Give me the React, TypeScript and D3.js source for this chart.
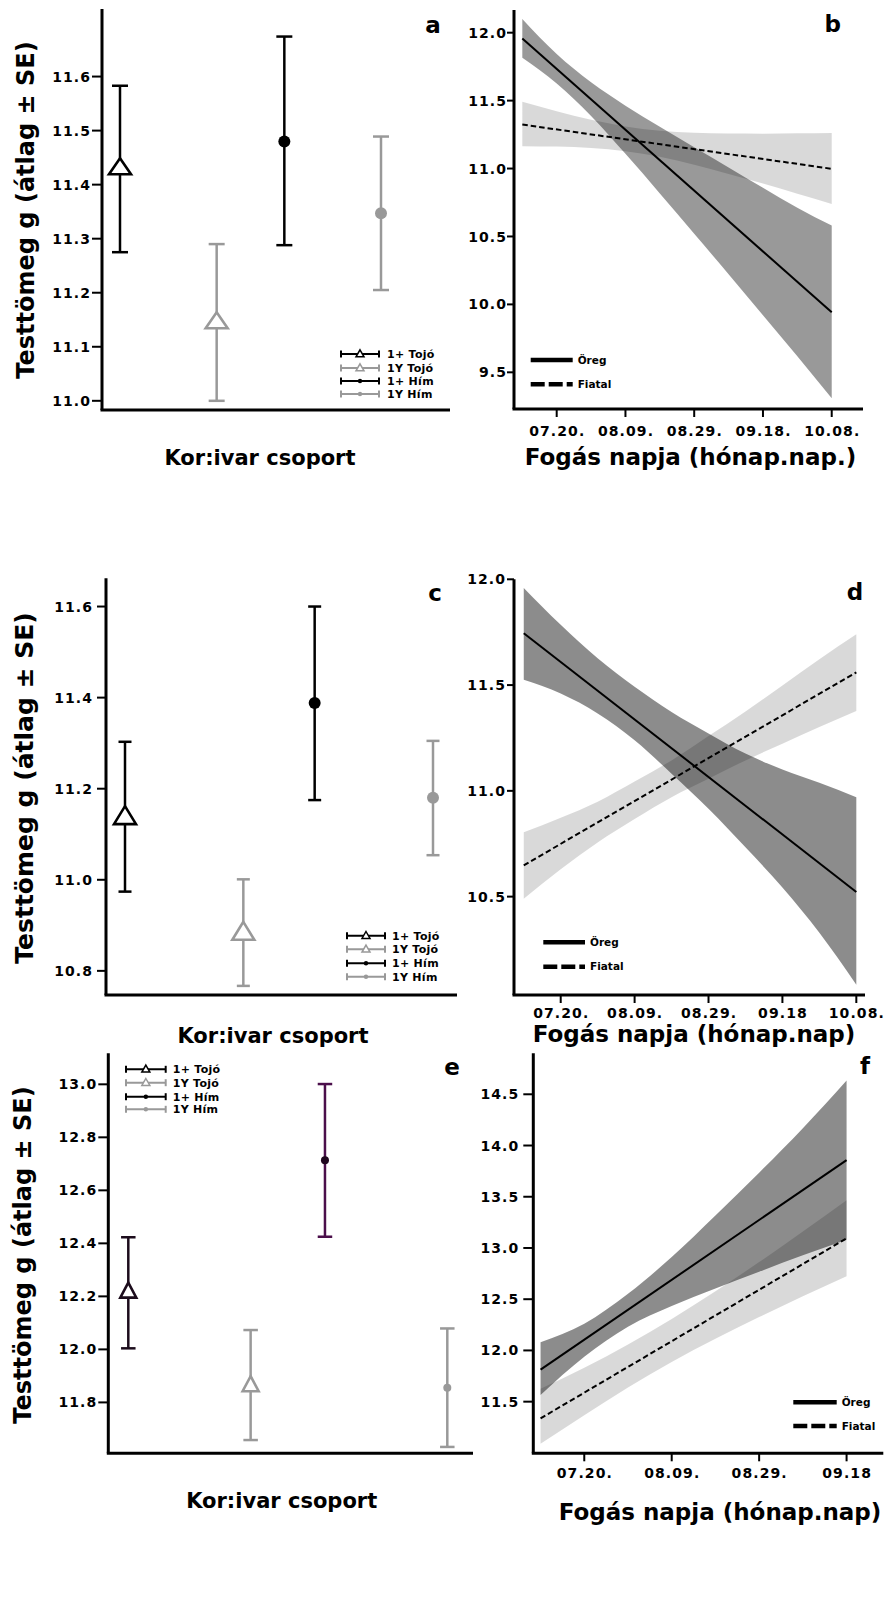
import React from 'react';
import * as d3 from 'd3';

// ---------- data ----------
const categories = ["1+ Tojó", "1Y Tojó", "1+ Hím", "1Y Hím"];
const categoryShape = ["triangle", "triangle", "circle", "circle"];
const dodgeSign = [-1, 1, -1, 1];

const aMean = [11.431, 11.146, 11.48, 11.347];
const aUpper = [11.583, 11.29, 11.674, 11.489];
const aLower = [11.275, 11.0, 11.288, 11.205];
const aTicks = [11.0, 11.1, 11.2, 11.3, 11.4, 11.5, 11.6];

const cMean = [11.138, 10.884, 11.388, 11.18];
const cUpper = [11.303, 11.001, 11.6, 11.305];
const cLower = [10.974, 10.767, 11.175, 11.054];
const cTicks = [10.8, 11.0, 11.2, 11.4, 11.6];

const eMean = [12.218, 11.865, 12.714, 11.855];
const eUpper = [12.423, 12.073, 13.001, 12.079];
const eLower = [12.004, 11.658, 12.425, 11.632];
const eTicks = [11.8, 12.0, 12.2, 12.4, 12.6, 12.8, 13.0];

const lineLegend = ["Öreg", "Fiatal"];
const dateTickDays = [0, 20, 40, 60, 80];

// panel b
const bDays = [-10, 0, 10, 20, 30, 40, 50, 60, 70, 80];
const bLineDays = [-10, 80];
const bOregUpper = [12.101, 11.843, 11.635, 11.463, 11.307, 11.156, 11.008, 10.859, 10.712, 10.58];
const bOregLower = [11.815, 11.626, 11.387, 11.108, 10.817, 10.52, 10.222, 9.92, 9.619, 9.31];
const bFiatalUpper = [11.491, 11.422, 11.359, 11.31, 11.279, 11.264, 11.258, 11.257, 11.259, 11.262];
const bFiatalLower = [11.165, 11.162, 11.151, 11.128, 11.086, 11.028, 10.96, 10.889, 10.814, 10.739];
const bOregLine = [11.958, 9.942];
const bFiatalLine = [11.324, 10.998];
const bTicks = [9.5, 10.0, 10.5, 11.0, 11.5, 12.0];
const bDateLabels = ["07.20.", "08.09.", "08.29.", "09.18.", "10.08."];

// panel d
const dDays = [-10, 0, 10, 20, 30, 40, 50, 60, 70, 80];
const dLineDays = [-10, 80];
const dOregUpper = [11.959, 11.785, 11.627, 11.492, 11.373, 11.271, 11.176, 11.101, 11.038, 10.97];
const dOregLower = [11.525, 11.46, 11.366, 11.239, 11.081, 10.915, 10.733, 10.543, 10.329, 10.084];
const dFiatalUpper = [10.804, 10.873, 10.949, 11.044, 11.144, 11.259, 11.375, 11.498, 11.622, 11.74];
const dFiatalLower = [10.49, 10.63, 10.756, 10.867, 10.97, 11.057, 11.144, 11.223, 11.302, 11.378];
const dOregLine = [11.745, 10.522];
const dFiatalLine = [10.648, 11.56];
const dTicks = [10.5, 11.0, 11.5, 12.0];
const dDateLabels = ["07.20.", "08.09.", "08.29.", "09.18", "10.08."];

// panel f
const fDays = [-10, 0, 10, 20, 30, 40, 50, 60];
const fLineDays = [-10, 60];
const fOregUpper = [12.08, 12.26, 12.552, 12.912, 13.318, 13.735, 14.169, 14.635];
const fOregLower = [11.566, 11.939, 12.232, 12.434, 12.605, 12.768, 12.928, 13.08];
const fFiatalUpper = [11.625, 11.831, 12.058, 12.307, 12.577, 12.862, 13.16, 13.466];
const fFiatalLower = [11.09, 11.367, 11.638, 11.887, 12.113, 12.326, 12.53, 12.725];
const fOregLine = [11.812, 13.858];
const fFiatalLine = [11.337, 13.094];
const fTicks = [11.5, 12.0, 12.5, 13.0, 13.5, 14.0, 14.5];
const fDateLabels = ["07.20.", "08.09.", "08.29.", "09.18"];

// ---------- style ----------
const FONT = "'DejaVu Sans', Verdana, sans-serif";
const GRAY = "#999999";
const fmt = d3.format(".1f");
const LS = 1.1; // tick label letter spacing

function triPath(cx: number, cy: number, w: number, h: number) {
  const p = d3.path();
  p.moveTo(cx, cy - h * 0.6);
  p.lineTo(cx + w / 2, cy + h * 0.4);
  p.lineTo(cx - w / 2, cy + h * 0.4);
  p.closePath();
  return p.toString();
}

function CatPanel({ L, mean, upper, lower, ticks, barColors, markColors }: any) {
  const y = d3.scaleLinear().domain(L.yDom).range([L.bottom, L.top]);
  const x = d3.scalePoint<string>().domain(categories).range(L.xRange);
  const legendColors = ["#000", GRAY, "#000", GRAY];
  return (
    <g>
      {categories.map((c, i) => {
        const cx = (x(c) as number) + dodgeSign[i] * L.dodge;
        const cy = y(mean[i]);
        const yu = y(upper[i]);
        const yl = y(lower[i]);
        const col = barColors[i];
        return (
          <g key={c}>
            <line x1={cx} x2={cx} y1={yu} y2={yl} stroke={col} strokeWidth={2.5} />
            <line x1={cx - L.capW / 2} x2={cx + L.capW / 2} y1={yu} y2={yu} stroke={col} strokeWidth={2.5} />
            <line x1={cx - L.capW / 2} x2={cx + L.capW / 2} y1={yl} y2={yl} stroke={col} strokeWidth={2.5} />
            {categoryShape[i] === "triangle" ? (
              <path d={triPath(cx, cy, L.triW, L.triH)} fill="#fff" stroke={markColors[i]} strokeWidth={2.6} />
            ) : (
              <circle cx={cx} cy={cy} r={L.circR} fill={markColors[i]} />
            )}
          </g>
        );
      })}
      <line x1={L.axisX} x2={L.axisX} y1={L.top} y2={L.bottom} stroke="#000" strokeWidth={3} />
      <line x1={L.axisX - 1.5} x2={L.right} y1={L.bottom} y2={L.bottom} stroke="#000" strokeWidth={3} />
      {ticks.map((t: number) => (
        <g key={t}>
          <line x1={L.axisX - L.tickLen} x2={L.axisX} y1={y(t)} y2={y(t)} stroke="#000" strokeWidth={2} />
          <text x={L.axisX - L.labelOff + LS} y={y(t)} dy="0.36em" textAnchor="end" fontSize={14} fontWeight="bold"
            letterSpacing={LS}>{fmt(t)}</text>
        </g>
      ))}
      {categories.map((c, i) => {
        const yy = L.legend.ys[i];
        const col = legendColors[i];
        const mx = (L.legend.lx1 + L.legend.lx2) / 2;
        return (
          <g key={"lg" + c}>
            <line x1={L.legend.lx1} x2={L.legend.lx2} y1={yy} y2={yy} stroke={col} strokeWidth={2} />
            <line x1={L.legend.lx1} x2={L.legend.lx1} y1={yy - 3.5} y2={yy + 3.5} stroke={col} strokeWidth={2} />
            <line x1={L.legend.lx2} x2={L.legend.lx2} y1={yy - 3.5} y2={yy + 3.5} stroke={col} strokeWidth={2} />
            {categoryShape[i] === "triangle" ? (
              <path d={triPath(mx, yy, 8, 7)} fill="#fff" stroke={col} strokeWidth={1.5} />
            ) : (
              <circle cx={mx} cy={yy} r={2.2} fill={col} />
            )}
            <text x={L.legend.tx} y={yy} dy="0.36em" fontSize={11} fontWeight="bold" letterSpacing={0.3}>{c}</text>
          </g>
        );
      })}
      <text x={L.letter.x} y={L.letter.y} dy="0.36em" textAnchor="middle" fontSize={23} fontWeight="bold">{L.letter.t}</text>
      <text transform={`translate(${L.ytitle.x},${L.ytitle.y}) rotate(-90)`} textAnchor="middle" fontSize={L.ytitle.size}
        fontWeight="bold">Testtömeg g (átlag ± SE)</text>
      <text x={L.xtitle.x} y={L.xtitle.y} textAnchor="middle" fontSize={21} fontWeight="bold">Kor:ivar csoport</text>
    </g>
  );
}

function TrendPanel({ L, days, lineDays, oUp, oLo, fUp, fLo, oLine, fLine, ticks, dateLabels }: any) {
  const x = d3.scaleLinear().domain(L.xDom).range([L.axisX, L.right]);
  const y = d3.scaleLinear().domain(L.yDom).range([L.bottom, L.top]);
  const area = d3.area<any>().x((p) => x(p.d)).y0((p) => y(p.lo)).y1((p) => y(p.up)).curve(d3.curveMonotoneX);
  const line = d3.line<any>().x((p) => x(p.d)).y((p) => y(p.v));
  const oBand = days.map((d: number, i: number) => ({ d, lo: oLo[i], up: oUp[i] }));
  const fBand = days.map((d: number, i: number) => ({ d, lo: fLo[i], up: fUp[i] }));
  const oPts = lineDays.map((d: number, i: number) => ({ d, v: oLine[i] }));
  const fPts = lineDays.map((d: number, i: number) => ({ d, v: fLine[i] }));
  return (
    <g>
      <path d={area(oBand) as string} fill="#000" fillOpacity={L.darkOpacity} />
      <path d={area(fBand) as string} fill="#000" fillOpacity={0.15} />
      <path d={line(oPts) as string} fill="none" stroke="#000" strokeWidth={2} />
      <path d={line(fPts) as string} fill="none" stroke="#000" strokeWidth={2} strokeDasharray="5.5,3" />
      <line x1={L.axisX} x2={L.axisX} y1={L.top} y2={L.bottom} stroke="#000" strokeWidth={3} />
      <line x1={L.axisX - 1.5} x2={L.right} y1={L.bottom} y2={L.bottom} stroke="#000" strokeWidth={3} />
      {ticks.map((t: number) => (
        <g key={t}>
          <line x1={L.axisX - L.tickLen} x2={L.axisX} y1={y(t)} y2={y(t)} stroke="#000" strokeWidth={2} />
          <text x={L.axisX - L.labelOff + LS} y={y(t)} dy="0.36em" textAnchor="end" fontSize={14} fontWeight="bold"
            letterSpacing={LS}>{fmt(t)}</text>
        </g>
      ))}
      {dateLabels.map((lab: string, i: number) => (
        <g key={lab + i}>
          <line x1={x(dateTickDays[i])} x2={x(dateTickDays[i])} y1={L.bottom} y2={L.bottom + 8} stroke="#000" strokeWidth={2} />
          <text x={x(dateTickDays[i]) + LS / 2} y={L.tickLabelY} textAnchor="middle" fontSize={14} fontWeight="bold"
            letterSpacing={LS}>{lab}</text>
        </g>
      ))}
      {lineLegend.map((lab, i) => (
        <g key={lab}>
          <line x1={L.legend.lx1} x2={L.legend.lx2} y1={L.legend.ys[i]} y2={L.legend.ys[i]} stroke="#000" strokeWidth={4.5}
            strokeDasharray={i === 1 ? "14,4" : undefined} />
          <text x={L.legend.tx} y={L.legend.ys[i]} dy="0.36em" fontSize={10.5} fontWeight="bold">{lab}</text>
        </g>
      ))}
      <text x={L.letter.x} y={L.letter.y} dy="0.36em" textAnchor="middle" fontSize={23} fontWeight="bold">{L.letter.t}</text>
      <text x={L.xtitle.x} y={L.xtitle.y} textAnchor="middle" fontSize={23} fontWeight="bold">{L.xtitle.t}</text>
    </g>
  );
}

const layoutA = {
  axisX: 102, top: 9, bottom: 410, right: 450, yDom: [10.983, 11.725], xRange: [127.25, 373.75], dodge: 7.25,
  triW: 22, triH: 16, circR: 6, capW: 16, tickLen: 10, labelOff: 12,
  legend: { lx1: 341, lx2: 379, tx: 387, ys: [354, 368, 381, 394] },
  letter: { x: 433, y: 25, t: "a" }, ytitle: { x: 34, y: 210, size: 24 }, xtitle: { x: 260, y: 465 },
};
const layoutC = {
  axisX: 106, top: 578.3, bottom: 995, right: 457, yDom: [10.747, 11.662], xRange: [136.75, 421.25], dodge: 11.75,
  triW: 22, triH: 18, circR: 6, capW: 13, tickLen: 9, labelOff: 14,
  legend: { lx1: 347, lx2: 385, tx: 392, ys: [935.7, 949.3, 963.3, 976.7] },
  letter: { x: 435, y: 593, t: "c" }, ytitle: { x: 33, y: 788, size: 25 }, xtitle: { x: 273, y: 1043 },
};
const layoutE = {
  axisX: 108.3, top: 1053.3, bottom: 1453.3, right: 473, yDom: [11.608, 13.117], xRange: [140.3, 435.3], dodge: 12,
  triW: 16, triH: 15, circR: 4, capW: 14.5, tickLen: 10, labelOff: 12,
  legend: { lx1: 126, lx2: 165.7, tx: 172.7, ys: [1069.3, 1082.7, 1096.7, 1109.3] },
  letter: { x: 452, y: 1067, t: "e" }, ytitle: { x: 31, y: 1255, size: 24 }, xtitle: { x: 281.7, y: 1508 },
};
const layoutB = {
  axisX: 514, top: 10, bottom: 409, right: 863, yDom: [9.23, 12.167], xDom: [-12.42, 89.1], tickLen: 7, labelOff: 8,
  darkOpacity: 0.4, tickLabelY: 436,
  legend: { lx1: 530.7, lx2: 572.7, tx: 577.7, ys: [360, 384.3] },
  letter: { x: 832.7, y: 23.3, t: "b" }, xtitle: { x: 690.5, y: 465, t: "Fogás napja (hónap.nap.)" },
};
const layoutD = {
  axisX: 514, top: 579.3, bottom: 995, right: 865, yDom: [10.035, 12.0], xDom: [-12.64, 82.35], tickLen: 7, labelOff: 9,
  darkOpacity: 0.45, tickLabelY: 1018,
  legend: { lx1: 543.3, lx2: 585, tx: 590, ys: [942.3, 966.7] },
  letter: { x: 855, y: 591.7, t: "d" }, xtitle: { x: 694, y: 1042, t: "Fogás napja (hónap.nap)" },
};
const layoutF = {
  axisX: 533.3, top: 1053.3, bottom: 1453.3, right: 883.3, yDom: [10.996, 14.9], xDom: [-11.66, 68.4], tickLen: 10, labelOff: 15,
  darkOpacity: 0.45, tickLabelY: 1478,
  legend: { lx1: 793.3, lx2: 836.7, tx: 841.7, ys: [1402.3, 1426] },
  letter: { x: 865, y: 1066, t: "f" }, xtitle: { x: 720, y: 1520, t: "Fogás napja (hónap.nap)" },
};

export default function App() {
  const grayCols = ["#000", GRAY, "#000", GRAY];
  return (
    <svg width={888} height={1608} style={{ position: "absolute", left: 0, top: 0 }} fontFamily={FONT}>
      <rect x={0} y={0} width={888} height={1608} fill="#fff" />
      <CatPanel L={layoutA} mean={aMean} upper={aUpper} lower={aLower} ticks={aTicks} barColors={grayCols} markColors={grayCols} />
      <CatPanel L={layoutC} mean={cMean} upper={cUpper} lower={cLower} ticks={cTicks} barColors={grayCols} markColors={grayCols} />
      <CatPanel L={layoutE} mean={eMean} upper={eUpper} lower={eLower} ticks={eTicks}
        barColors={["#1c0c1c", GRAY, "#4b0f4b", GRAY]} markColors={["#1c0c1c", GRAY, "#1e061e", GRAY]} />
      <TrendPanel L={layoutB} days={bDays} lineDays={bLineDays} oUp={bOregUpper} oLo={bOregLower} fUp={bFiatalUpper}
        fLo={bFiatalLower} oLine={bOregLine} fLine={bFiatalLine} ticks={bTicks} dateLabels={bDateLabels} />
      <TrendPanel L={layoutD} days={dDays} lineDays={dLineDays} oUp={dOregUpper} oLo={dOregLower} fUp={dFiatalUpper}
        fLo={dFiatalLower} oLine={dOregLine} fLine={dFiatalLine} ticks={dTicks} dateLabels={dDateLabels} />
      <TrendPanel L={layoutF} days={fDays} lineDays={fLineDays} oUp={fOregUpper} oLo={fOregLower} fUp={fFiatalUpper}
        fLo={fFiatalLower} oLine={fOregLine} fLine={fFiatalLine} ticks={fTicks} dateLabels={fDateLabels} />
    </svg>
  );
}
